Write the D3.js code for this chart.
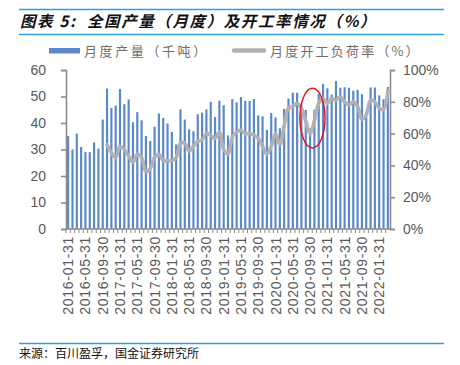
<!DOCTYPE html>
<html><head><meta charset="utf-8">
<script src="https://cdn.jsdelivr.net/npm/d3@7"></script>
<style>
html,body{margin:0;padding:0;background:#fff;}
svg{display:block;}
</style></head>
<body>
<svg id="chart" width="460" height="365"></svg>
<script>
const categories = [
"2016-01-31","2016-02-29","2016-03-31","2016-04-30","2016-05-31","2016-06-30","2016-07-31","2016-08-31","2016-09-30","2016-10-31","2016-11-30","2016-12-31",
"2017-01-31","2017-02-28","2017-03-31","2017-04-30","2017-05-31","2017-06-30","2017-07-31","2017-08-31","2017-09-30","2017-10-31","2017-11-30","2017-12-31",
"2018-01-31","2018-02-28","2018-03-31","2018-04-30","2018-05-31","2018-06-30","2018-07-31","2018-08-31","2018-09-30","2018-10-31","2018-11-30","2018-12-31",
"2019-01-31","2019-02-28","2019-03-31","2019-04-30","2019-05-31","2019-06-30","2019-07-31","2019-08-31","2019-09-30","2019-10-31","2019-11-30","2019-12-31",
"2020-01-31","2020-02-29","2020-03-31","2020-04-30","2020-05-31","2020-06-30","2020-07-31","2020-08-31","2020-09-30","2020-10-31","2020-11-30","2020-12-31",
"2021-01-31","2021-02-28","2021-03-31","2021-04-30","2021-05-31","2021-06-30","2021-07-31","2021-08-31","2021-09-30","2021-10-31","2021-11-30","2021-12-31",
"2022-01-31","2022-02-28","2022-03-31"];

// 月度产量（千吨）
const production = [
35.1,30.0,36.0,30.9,29.0,29.0,32.7,30.3,41.3,53.0,45.7,46.6,
52.8,47.1,48.9,40.3,44.1,41.0,35.1,33.2,38.6,43.6,41.9,39.8,
36.6,31.9,45.2,41.3,37.6,36.9,43.3,43.9,45.2,48.0,42.2,48.4,
46.7,35.3,49.0,47.8,49.8,48.4,48.3,49.0,42.9,42.5,37.4,43.8,
42.1,38.0,45.3,49.2,51.4,51.4,47.0,44.9,38.0,45.0,51.0,54.7,
53.1,50.7,55.8,53.3,53.5,53.3,52.2,52.5,50.9,44.0,53.4,53.4,
50.4,49.0,53.6];

// 月度开工负荷率（%）
const utilization = [
null,null,null,null,null,null,null,null,null,53,48,45,
52,50,46,42,47,45,36,38,45,47,43,43,
43,45,54,54,49,52,55,56,60,59,57,61,
50,47,58,61,62,60,60,59,57,52,47,52,
60,53,65,76,77,79,76,68,60,68,79,82,
79,82,81,83,80,78,80,77,69,72,81,80,
76,75,87];

const tickLabels = ["2016-01-31","2016-05-31","2016-09-30","2017-01-31","2017-05-31","2017-09-30",
"2018-01-31","2018-05-31","2018-09-30","2019-01-31","2019-05-31","2019-09-30",
"2020-01-31","2020-05-31","2020-09-30","2021-01-31","2021-05-31","2021-09-30","2022-01-31"];
const leftTicks = [0,10,20,30,40,50,60];
const rightTicks = [0,20,40,60,80,100];

const title = "图表 5:  全国产量（月度）及开工率情况（%）";
const seriesNames = ["月度产量（千吨）","月度开工负荷率（%）"];
const sourceText = "来源：百川盈孚，国金证券研究所";

const svg = d3.select("#chart");
const L = 66, R = 390, T = 70, B = 229;
const blueBar = "#5a88cc", grayLine = "#b2b2b2", axisCol = "#8c8c8c", textCol = "#595959";

// header lines & title
svg.append("line").attr("x1",19).attr("x2",444).attr("y1",9.5).attr("y2",9.5).attr("stroke","#2f9fe0").attr("stroke-width",1.5);
svg.append("line").attr("x1",19).attr("x2",444).attr("y1",34.5).attr("y2",34.5).attr("stroke","#2f9fe0").attr("stroke-width",1.5);
svg.append("text").attr("x",20).attr("y",27).text(title)
  .style("white-space","pre")
  .attr("font-family","'Noto Sans CJK SC'").attr("font-weight","bold").attr("font-style","italic")
  .attr("font-size",15.5).attr("letter-spacing",1.6).attr("fill","#111");

// legend
svg.append("rect").attr("x",49).attr("y",48).attr("width",31).attr("height",5.5).attr("fill",blueBar);
svg.append("text").attr("x",84).attr("y",55.5).text(seriesNames[0])
  .attr("font-family","'Noto Sans CJK SC'").attr("font-size",13).attr("letter-spacing",2.6).attr("fill","#6e6e6e");
svg.append("line").attr("x1",234).attr("x2",264).attr("y1",50.5).attr("y2",50.5)
  .attr("stroke",grayLine).attr("stroke-width",4.5).attr("stroke-linecap","round");
svg.append("text").attr("x",270).attr("y",55.5).text(seriesNames[1])
  .attr("font-family","'Noto Sans CJK SC'").attr("font-size",13).attr("letter-spacing",2.2).attr("fill","#6e6e6e");

// scales
const x = d3.scaleBand().domain(categories).range([L,R]).paddingInner(0.5).paddingOuter(0.25);
const yL = d3.scaleLinear().domain([0,60]).range([B,T]);
const yR = d3.scaleLinear().domain([0,100]).range([B,T]);

// bars
svg.append("g").selectAll("rect").data(categories).join("rect")
  .attr("x",(d)=>x(d)).attr("width",x.bandwidth())
  .attr("y",(d,i)=>yL(production[i])).attr("height",(d,i)=>yL(0)-yL(production[i]))
  .attr("fill",blueBar);

// line
const line = d3.line()
  .defined(d=>d.v!=null)
  .x(d=>x(d.c)+x.bandwidth()/2).y(d=>yR(d.v))
  .curve(d3.curveCatmullRom.alpha(0.5));
svg.append("path").datum(categories.map((c,i)=>({c,v:utilization[i]})))
  .attr("d",line).attr("fill","none").attr("stroke",grayLine).attr("stroke-width",3.6)
  .attr("stroke-linejoin","round").attr("stroke-linecap","round");

// left axis
const gL = svg.append("g").attr("transform",`translate(${L},0)`)
  .call(d3.axisLeft(yL).tickValues(leftTicks).tickSize(5).tickPadding(15));
gL.selectAll("path,line").attr("stroke",axisCol).attr("stroke-width",1.6);
gL.selectAll("text").attr("font-family","'Liberation Sans',Arial").attr("font-size",14).attr("fill",textCol);

// right axis
const gR = svg.append("g").attr("transform",`translate(${R},0)`)
  .call(d3.axisRight(yR).tickValues(rightTicks).tickFormat(d=>d+"%").tickSize(5).tickPadding(8));
gR.selectAll("path,line").attr("stroke",axisCol).attr("stroke-width",1.6);
gR.selectAll("text").attr("font-family","'Liberation Sans',Arial").attr("font-size",14).attr("fill",textCol);

// bottom axis: ticks at each category boundary
const gB = svg.append("g").attr("transform",`translate(0,${B})`);
gB.append("line").attr("x1",L).attr("x2",R).attr("y1",0).attr("y2",0).attr("stroke",axisCol).attr("stroke-width",1.6);
gB.selectAll("line.tk").data(categories).join("line").attr("class","tk")
  .attr("x1",d=>x(d)-x.step()*x.paddingInner()/2).attr("x2",d=>x(d)-x.step()*x.paddingInner()/2)
  .attr("y1",0).attr("y2",4).attr("stroke",axisCol).attr("stroke-width",1);
gB.selectAll("text").data(tickLabels).join("text")
  .attr("transform",d=>`translate(${x(d)+x.bandwidth()/2+5},7) rotate(-90)`)
  .attr("text-anchor","end").text(d=>d)
  .attr("font-family","'Liberation Sans',Arial").attr("font-size",14).attr("letter-spacing",0.7).attr("fill",textCol);

// annotation ellipse
const cx = x(categories[56]) + x.step()*0.8;
svg.append("ellipse").attr("cx",cx).attr("cy",(yR(88.5)+yR(51))/2)
  .attr("rx",x.step()*2.9).attr("ry",(yR(51)-yR(88.5))/2)
  .attr("fill","none").attr("stroke","#e8141b").attr("stroke-width",1.5);

// source
svg.append("line").attr("x1",19).attr("x2",444).attr("y1",343.5).attr("y2",343.5).attr("stroke","#2f9fe0").attr("stroke-width",1.5);
svg.append("text").attr("x",19).attr("y",358).text(sourceText)
  .attr("font-family","'Noto Sans CJK SC'").attr("font-size",12).attr("fill","#111");
</script>
</body></html>
